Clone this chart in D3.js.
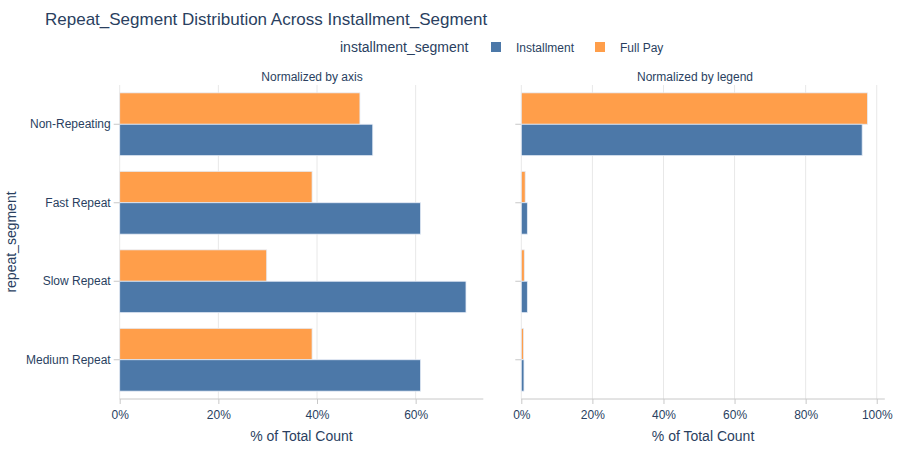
<!DOCTYPE html>
<html>
<head>
<meta charset="utf-8">
<script src="https://cdn.jsdelivr.net/npm/d3@7"></script>
<style>
  body { margin: 0; background: #fff; }
  svg text { font-family: "Liberation Sans", Arial, sans-serif; fill: #2a3f5f; }
</style>
</head>
<body>
<div id="chart"></div>
<script>
// repeat segments, top to bottom
const categories = ["Non-Repeating", "Fast Repeat", "Slow Repeat", "Medium Repeat"]
const seriesNames = ["Full Pay", "Installment"]

// share of each row (normalized by axis)
const byAxisFullPay = [0.487, 0.390, 0.298, 0.390]
const byAxisInstallment = [0.513, 0.610, 0.702, 0.610]

// share of each series (normalized by legend)
const byLegendFullPay = [0.974, 0.011, 0.0085, 0.0065]
const byLegendInstallment = [0.959, 0.017, 0.017, 0.0075]

const leftTicks = [0, 0.2, 0.4, 0.6]
const rightTicks = [0, 0.2, 0.4, 0.6, 0.8, 1.0]

const colors = { "Installment": "#4c78a8", "Full Pay": "#ff9e4a" }

const width = 900
const height = 450
const plotTop = 85, plotBottom = 399

const svg = d3.select('#chart').append('svg').attr('width', width).attr('height', height)

svg.append('text')
  .attr('x', 45).attr('y', 25)
  .attr('font-size', '17px')
  .text('Repeat_Segment Distribution Across Installment_Segment')

// legend
const legend = svg.append('g').attr('transform', 'translate(0 47)')
legend.append('text').attr('x', 340).attr('y', 5).attr('font-size', '14px').text('installment_segment')
const legendItems = [["Installment", 491], ["Full Pay", 595]]
legendItems.forEach(function(item) {
  legend.append('rect').attr('x', item[1]).attr('y', -5).attr('width', 10).attr('height', 10)
    .attr('fill', colors[item[0]])
  legend.append('text').attr('x', item[1] + 25).attr('y', 4.5).attr('font-size', '12px').text(item[0])
})

const yScale = d3.scaleBand().domain(categories).range([plotTop, plotBottom]).paddingInner(0).paddingOuter(0)
const inner = d3.scaleBand().domain(seriesNames).range([0, yScale.bandwidth()]).paddingOuter(0.25).paddingInner(0)

function drawPanel(opts) {
  const maxVal = d3.max(opts.fullPay.concat(opts.installment))
  const xScale = d3.scaleLinear().domain([0, maxVal * 1.05]).range([opts.x0, opts.x1])
  const g = svg.append('g')

  // grid
  g.selectAll('line.grid').data(opts.ticks).enter().append('line')
    .attr('x1', function(d) { return xScale(d) }).attr('x2', function(d) { return xScale(d) })
    .attr('y1', plotTop).attr('y2', plotBottom)
    .attr('stroke', '#e8e8e8').attr('stroke-width', 1)

  const rows = []
  categories.forEach(function(c, i) {
    rows.push({ cat: c, series: "Full Pay", value: opts.fullPay[i] })
    rows.push({ cat: c, series: "Installment", value: opts.installment[i] })
  })

  g.selectAll('rect.bar').data(rows).enter().append('rect')
    .attr('x', xScale(0))
    .attr('y', function(d) { return yScale(d.cat) + inner(d.series) })
    .attr('width', function(d) { return xScale(d.value) - xScale(0) })
    .attr('height', inner.bandwidth())
    .attr('fill', function(d) { return colors[d.series] })
    .attr('stroke', '#e5ecf6').attr('stroke-width', 0.8)

  const xAxis = d3.axisBottom(xScale).tickValues(opts.ticks).tickFormat(d3.format('.0%')).tickSize(5).tickPadding(6)
  const ax = g.append('g').attr('transform', 'translate(0 ' + plotBottom + ')').call(xAxis)
  ax.select('.domain').attr('stroke', '#c8c8c8').attr('d', 'M' + opts.x0 + ',0H' + opts.x1)
  ax.selectAll('.tick line').attr('stroke', '#c8c8c8')
  ax.selectAll('.tick text').attr('font-size', '12px').attr('fill', '#2a3f5f')

  const yAxis = d3.axisLeft(yScale).tickSize(6).tickPadding(3)
  if (!opts.labels) yAxis.tickFormat('')
  const ay = g.append('g').attr('transform', 'translate(' + opts.x0 + ' 0)').call(yAxis)
  ay.select('.domain').remove()
  ay.selectAll('.tick line').attr('stroke', '#c8c8c8')
  ay.selectAll('.tick text').attr('font-size', '12px').attr('fill', '#2a3f5f')

  svg.append('text').attr('x', opts.titleX).attr('y', 81)
    .attr('text-anchor', 'middle').attr('font-size', '12px').text(opts.title)
  svg.append('text').attr('x', (opts.x0 + opts.x1) / 2).attr('y', 441)
    .attr('text-anchor', 'middle').attr('font-size', '14px').text('% of Total Count')
}

drawPanel({ x0: 119.7, x1: 483.3, fullPay: byAxisFullPay, installment: byAxisInstallment,
  ticks: leftTicks, labels: true, title: 'Normalized by axis', titleX: 312 })
drawPanel({ x0: 521.3, x1: 884.8, fullPay: byLegendFullPay, installment: byLegendInstallment,
  ticks: rightTicks, labels: false, title: 'Normalized by legend', titleX: 695 })

svg.append('text')
  .attr('transform', 'translate(16 ' + (plotTop + plotBottom) / 2 + ') rotate(-90)')
  .attr('text-anchor', 'middle').attr('font-size', '14px').text('repeat_segment')
</script>
</body>
</html>
